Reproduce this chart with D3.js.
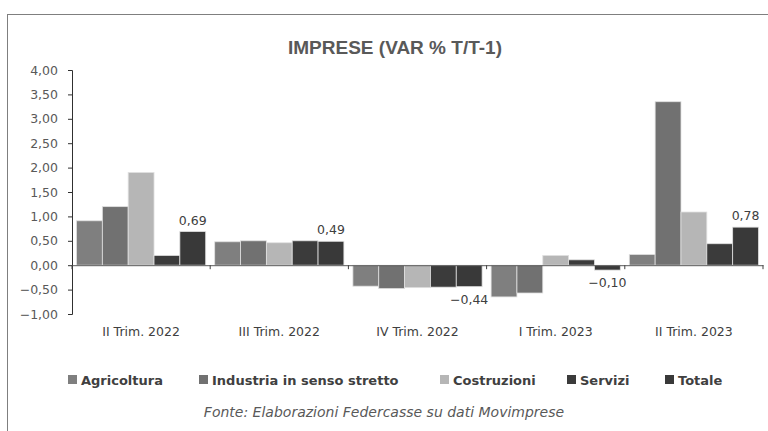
<!DOCTYPE html>
<html>
<head>
<meta charset="utf-8">
<script src="https://cdn.jsdelivr.net/npm/d3@7"></script>
<style>
  body { margin: 0; background: #fff; }
</style>
</head>
<body>
<div id="chart"></div>
<script>
const quarters = ["II Trim. 2022", "III Trim. 2022", "IV Trim. 2022", "I Trim. 2023", "II Trim. 2023"];
const seriesNames = ["Agricoltura", "Industria in senso stretto", "Costruzioni", "Servizi", "Totale"];
const agricoltura = [0.91, 0.48, -0.43, -0.65, 0.22];
const industria = [1.20, 0.50, -0.48, -0.57, 3.35];
const costruzioni = [1.90, 0.46, -0.46, 0.20, 1.09];
const servizi = [0.20, 0.50, -0.45, 0.11, 0.44];
const totale = [0.69, 0.49, -0.44, -0.10, 0.78];
const yTicks = [-1, -0.5, 0, 0.5, 1, 1.5, 2, 2.5, 3, 3.5, 4];

const colors = ["#7f7f7f", "#717171", "#b6b6b6", "#3b3b3b", "#393939"];
const allSeries = [agricoltura, industria, costruzioni, servizi, totale];

const width = 768, height = 431;
const margin = { top: 70, right: 5, bottom: 117, left: 72 };

const svg = d3.select("#chart").append("svg")
    .attr("width", width)
    .attr("height", height);

// cornice
svg.append("rect")
    .attr("x", 7.5).attr("y", 14.5)
    .attr("width", 800).attr("height", 500)
    .attr("fill", "none")
    .attr("stroke", "#7f7f7f");

svg.append("text")
    .attr("x", 395).attr("y", 54)
    .attr("text-anchor", "middle")
    .attr("font-family", "'Liberation Sans Narrow', 'Liberation Sans', sans-serif")
    .attr("font-weight", "bold")
    .attr("font-size", 19)
    .attr("fill", "#595959")
    .text("IMPRESE (VAR % T/T-1)");

const x0 = d3.scaleBand()
    .domain(quarters)
    .range([margin.left, width - margin.right]);

const x1 = d3.scaleBand()
    .domain(seriesNames)
    .range([4.5, x0.bandwidth() - 4.5]);

const y = d3.scaleLinear()
    .domain([-1, 4])
    .range([height - margin.bottom, margin.top]);

const numFmt = v => d3.format(".2f")(v).replace(".", ",");

// assi
const yAxis = svg.append("g")
    .attr("transform", `translate(${margin.left},0)`)
    .call(d3.axisLeft(y).tickValues(yTicks).tickSize(4).tickPadding(10).tickFormat(numFmt));
yAxis.selectAll("text")
    .attr("font-family", "'DejaVu Sans', sans-serif")
    .attr("font-size", 12.5)
    .attr("fill", "#595959");
yAxis.selectAll("line, path").attr("stroke", "#303030");

const rows = quarters.map((q, i) => ({ q, values: allSeries.map((s, j) => ({ name: seriesNames[j], v: s[i], c: colors[j] })) }));

const groups = svg.append("g").selectAll("g")
    .data(rows)
    .join("g")
    .attr("transform", d => `translate(${x0(d.q)},0)`);

groups.selectAll("rect")
    .data(d => d.values)
    .join("rect")
    .attr("x", d => x1(d.name))
    .attr("width", x1.bandwidth())
    .attr("y", d => y(Math.max(0, d.v)))
    .attr("height", d => Math.abs(y(d.v) - y(0)))
    .attr("fill", d => d.c)
    .attr("stroke", "#e0e0e0")
    .attr("stroke-width", 0.8);

// etichette Totale
groups.append("text")
    .datum(d => d.values[4])
    .attr("x", d => x1(d.name) + x1.bandwidth() / 2)
    .attr("y", d => d.v >= 0 ? y(d.v) - 7 : y(d.v) + 17)
    .attr("text-anchor", "middle")
    .attr("font-family", "'DejaVu Sans', sans-serif")
    .attr("font-size", 12.5)
    .attr("fill", "#404040")
    .text(d => numFmt(d.v));

const xAxis = svg.append("g")
    .attr("transform", `translate(0,${y(0)})`)
    .call(d3.axisBottom(x0).tickSize(0).tickPadding(0).tickFormat(""));
xAxis.select("path").attr("stroke", "#595959");
xAxis.selectAll(".tick").remove();
xAxis.selectAll("line.sep")
    .data(quarters.concat(["end"]))
    .join("line")
    .attr("class", "sep")
    .attr("x1", (d, i) => i < quarters.length ? x0(d) : x0.range()[1])
    .attr("x2", (d, i) => i < quarters.length ? x0(d) : x0.range()[1])
    .attr("y1", 0).attr("y2", 4)
    .attr("stroke", "#404040");

svg.append("g").selectAll("text")
    .data(quarters)
    .join("text")
    .attr("x", d => x0(d) + x0.bandwidth() / 2)
    .attr("y", 336)
    .attr("text-anchor", "middle")
    .attr("font-family", "'DejaVu Sans', sans-serif")
    .attr("font-size", 12.5)
    .attr("fill", "#404040")
    .text(d => d);

// legenda
const legendX = [68, 199, 440, 567, 665];
const legend = svg.append("g").selectAll("g")
    .data(seriesNames)
    .join("g")
    .attr("transform", (d, i) => `translate(${legendX[i]},380)`);
legend.append("rect")
    .attr("x", 0).attr("y", -5)
    .attr("width", 9).attr("height", 9)
    .attr("fill", (d, i) => colors[i]);
legend.append("text")
    .attr("x", 13).attr("y", 5)
    .attr("font-family", "'DejaVu Sans', sans-serif")
    .attr("font-weight", "bold")
    .attr("font-size", 13)
    .attr("fill", "#404040")
    .text(d => d);

svg.append("text")
    .attr("x", 384).attr("y", 417)
    .attr("text-anchor", "middle")
    .attr("font-family", "'DejaVu Sans', sans-serif")
    .attr("font-style", "italic")
    .attr("font-size", 14)
    .attr("fill", "#595959")
    .text("Fonte: Elaborazioni Federcasse su dati Movimprese");
</script>
</body>
</html>
